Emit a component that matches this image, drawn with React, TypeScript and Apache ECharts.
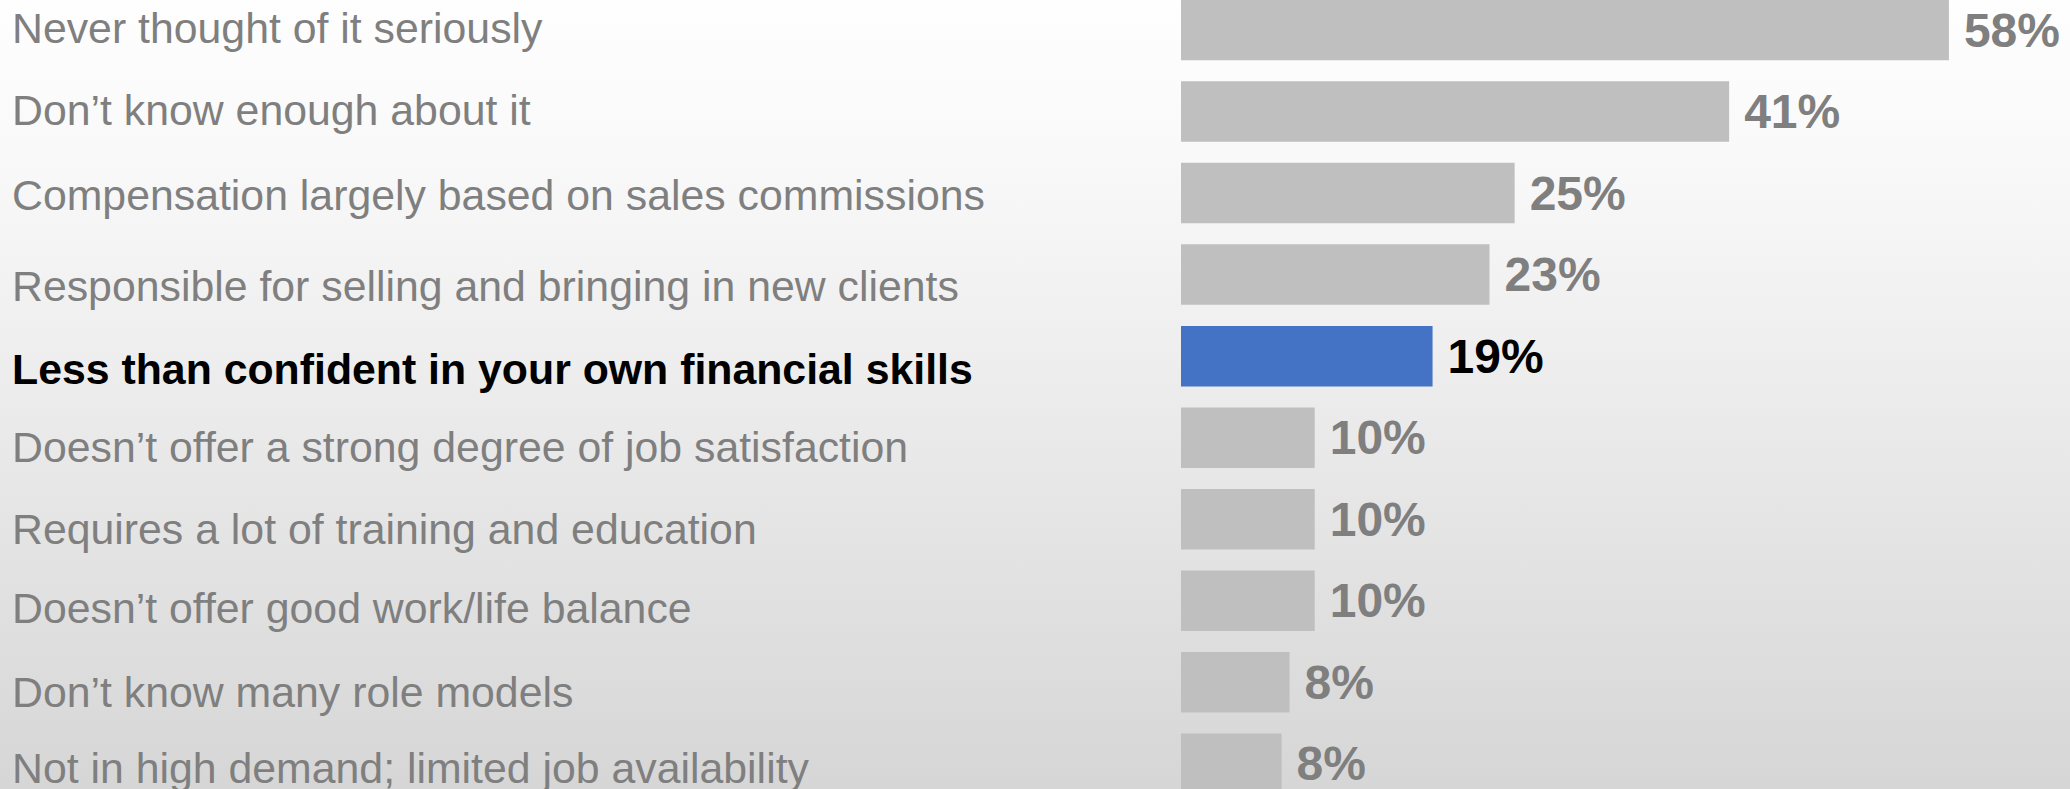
import React, { useEffect, useRef } from "react";
import * as echarts from "echarts";

const categories: string[] = [
  "Never thought of it seriously",
  "Don\u2019t know enough about it",
  "Compensation largely based on sales commissions",
  "Responsible for selling and bringing in new clients",
  "Less than confident in your own financial skills",
  "Doesn\u2019t offer a strong degree of job satisfaction",
  "Requires a lot of training and education",
  "Doesn\u2019t offer good work/life balance",
  "Don\u2019t know many role models",
  "Not in high demand; limited job availability",
];

const values: number[] = [58, 41.4, 25.2, 23.3, 19, 10.1, 10.1, 10.1, 8.2, 7.6];

const highlightIndex = 4;

// small vertical nudges of the left-hand labels relative to their bars (px)
const labelNudges: number[] = [-1.7, -1.4, 2, 11.5, 13, 9.3, 9.5, 7, 9.7, 4];

const GRAY_BAR = "#bfbfbf";
const BLUE_BAR = "#4472c4";
const GRAY_TEXT = "#7f7f7f";
const FONT = "'Liberation Sans', Arial, Helvetica, sans-serif";

export default function App() {
  const ref = useRef<HTMLDivElement>(null);

  useEffect(() => {
    if (!ref.current) return;
    const chart = echarts.init(ref.current, undefined, { renderer: "svg" });

    const rich: Record<string, any> = {};
    categories.forEach((_, i) => {
      const d = labelNudges[i];
      rich["c" + i] = {
        fontFamily: FONT,
        fontSize: 42.8,
        lineHeight: 48,
        color: i === highlightIndex ? "#000000" : GRAY_TEXT,
        fontWeight: i === highlightIndex ? "bold" : "normal",
        padding: d >= 0 ? [2 * d, 0, 0, 0] : [0, 0, -2 * d, 0],
      };
    });

    const pxPerPct = 13.24;
    const xMax = 60;

    chart.setOption({
      animation: false,
      backgroundColor: {
        type: "linear",
        x: 0,
        y: 0,
        x2: 0,
        y2: 1,
        colorStops: [
          { offset: 0, color: "#fefefe" },
          { offset: 0.2, color: "#f9f9f9" },
          { offset: 1, color: "#d6d6d6" },
        ],
      },
      grid: {
        left: 1181,
        top: -10.77,
        height: 815.4,
        width: xMax * pxPerPct,
        containLabel: false,
        outerBoundsMode: "none",
      },
      xAxis: {
        type: "value",
        min: 0,
        max: xMax,
        show: false,
      },
      yAxis: {
        type: "category",
        inverse: true,
        data: categories,
        axisLine: { show: false },
        axisTick: { show: false },
        splitLine: { show: false },
        axisLabel: {
          align: "left",
          margin: 1169,
          verticalAlign: "middle",
          formatter: (v: string, i: number) => `{c${i}|${v}}`,
          rich,
        },
      },
      series: [
        {
          type: "bar",
          barWidth: 60.5,
          data: values.map((v, i) => ({
            value: v,
            itemStyle: { color: i === highlightIndex ? BLUE_BAR : GRAY_BAR },
            label: { color: i === highlightIndex ? "#000000" : GRAY_TEXT },
          })),
          label: {
            show: true,
            position: "right",
            distance: 15,
            fontFamily: FONT,
            fontSize: 48,
            fontWeight: "bold",
            color: GRAY_TEXT,
            formatter: (p: any) => Math.round(p.value) + "%",
          },
        },
      ],
    });

    return () => chart.dispose();
  }, []);

  return (
    <div
      ref={ref}
      style={{ position: "absolute", left: 0, top: 0, width: 2070, height: 789 }}
    />
  );
}
